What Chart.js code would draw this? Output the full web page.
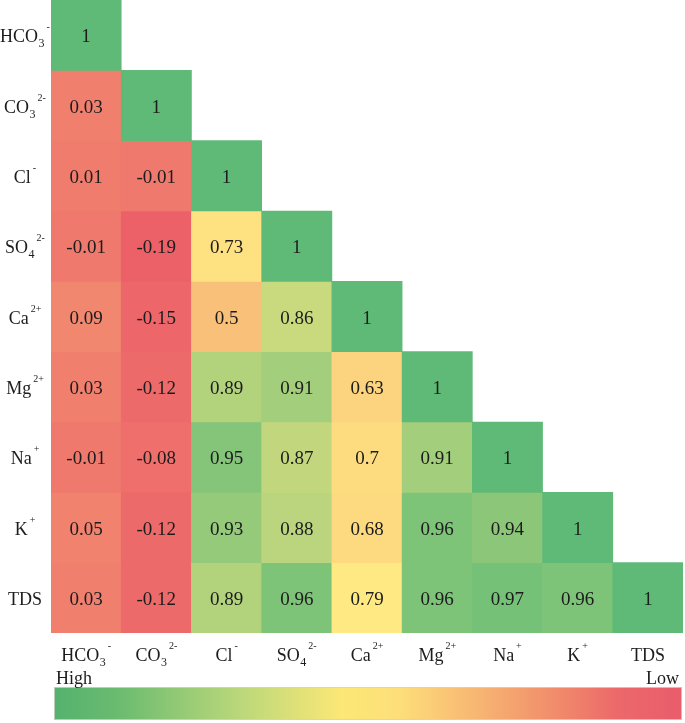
<!DOCTYPE html>
<html>
<head>
<meta charset="utf-8">
<script src="https://cdn.jsdelivr.net/npm/chart.js@4/dist/chart.umd.min.js"></script>
<style>
  html, body { margin: 0; padding: 0; background: #ffffff; }
  #wrap { width: 685px; height: 723px; }
</style>
</head>
<body>
<div id="wrap"><canvas id="c" width="685" height="723"></canvas></div>
<script>
// ---- data ----
const categories = ['HCO3-', 'CO3 2-', 'Cl-', 'SO4 2-', 'Ca2+', 'Mg2+', 'Na+', 'K+', 'TDS'];
const labelBase = ['HCO', 'CO', 'Cl', 'SO', 'Ca', 'Mg', 'Na', 'K', 'TDS'];
const labelSub  = ['3', '3', '', '4', '', '', '', '', ''];
const labelSup  = ['-', '2-', '-', '2-', '2+', '2+', '+', '+', ''];

const rowHCO3 = [1];
const rowCO3  = [0.03, 1];
const rowCl   = [0.01, -0.01, 1];
const rowSO4  = [-0.01, -0.19, 0.73, 1];
const rowCa   = [0.09, -0.15, 0.5, 0.86, 1];
const rowMg   = [0.03, -0.12, 0.89, 0.91, 0.63, 1];
const rowNa   = [-0.01, -0.08, 0.95, 0.87, 0.7, 0.91, 1];
const rowK    = [0.05, -0.12, 0.93, 0.88, 0.68, 0.96, 0.94, 1];
const rowTDS  = [0.03, -0.12, 0.89, 0.96, 0.79, 0.96, 0.97, 0.96, 1];
const rows = [rowHCO3, rowCO3, rowCl, rowSO4, rowCa, rowMg, rowNa, rowK, rowTDS];

const legendLow = 'Low';
const legendHigh = 'High';

// ---- colour scale (red -> yellow -> green) ----
const cMin = -0.19, cMid = 0.79, cMax = 1;
const RED = [236, 96, 104], YEL = [255, 233, 130], GRN = [94, 186, 118];
function mix(a, b, t) { return a.map((v, i) => Math.round(v + (b[i] - v) * t)); }
function colorFor(v) {
  let c;
  if (v <= cMid) c = mix(RED, YEL, Math.max(0, (v - cMin) / (cMid - cMin)));
  else c = mix(YEL, GRN, Math.min(1, (v - cMid) / (cMax - cMid)));
  return 'rgb(' + c.join(',') + ')';
}

const FONT_FAMILY = "'Liberation Serif', 'Times New Roman', serif";
const TXT = '#1c1c1c';

const datasets = rows.map((row, r) => ({
  label: categories[r],
  data: categories.map((_, c) => (c < row.length ? [r, r + 1] : null)),
  backgroundColor: categories.map((_, c) => (c < row.length ? colorFor(row[c]) : 'rgba(0,0,0,0)')),
  borderWidth: 0,
  grouped: false,
  barPercentage: 1,
  categoryPercentage: 1
}));

function textW(ctx, t, font) { ctx.font = font; return ctx.measureText(t).width; }
function drawText(ctx, t, x, y, font) {
  ctx.font = font;
  ctx.textAlign = 'left';
  ctx.textBaseline = 'alphabetic';
  ctx.fillText(t, x, y);
}
const valueFont = '19px ' + FONT_FAMILY;
const mainFont = '18px ' + FONT_FAMILY;
const subFont = '12px ' + FONT_FAMILY;
const supFont = '10px ' + FONT_FAMILY;

function richParts(i) {
  const p = [{ t: labelBase[i], f: mainFont, dy: 0, gap: 0 }];
  if (labelSub[i]) p.push({ t: labelSub[i], f: subFont, dy: 5, gap: 0.5 });
  if (labelSup[i]) p.push({ t: labelSup[i], f: supFont, dy: -12, gap: 2 });
  return p;
}
function drawRich(ctx, i, cx, baseY, minLeft) {
  const parts = richParts(i);
  let total = 0;
  parts.forEach(p => { p.w = textW(ctx, p.t, p.f); total += p.w + p.gap; });
  let x = Math.max(minLeft, cx - total / 2);
  parts.forEach(p => { x += p.gap; drawText(ctx, p.t, x, baseY + p.dy, p.f); x += p.w; });
}

const decorPlugin = {
  id: 'decor',
  afterDatasetsDraw(chart) {
    const ctx = chart.ctx;
    const xs = chart.scales.x, ys = chart.scales.y;
    ctx.save();
    ctx.fillStyle = TXT;
    // cell values
    rows.forEach((row, r) => {
      const meta = chart.getDatasetMeta(r);
      row.forEach((v, c) => {
        const el = meta.data[c];
        const cy = (el.y + el.base) / 2;
        const s = String(v);
        const w = textW(ctx, s, valueFont);
        drawText(ctx, s, el.x - w / 2, cy + 7, valueFont);
      });
    });
    // y labels
    categories.forEach((_, i) => {
      const cy = ys.getPixelForValue(i + 0.5);
      drawRich(ctx, i, 25, cy + 7, 0);
    });
    // x labels
    categories.forEach((_, i) => {
      const cx = xs.getPixelForValue(i);
      drawRich(ctx, i, cx, 661, -999);
    });
    // colour bar
    const bx0 = 54, bx1 = 682, by0 = 687, by1 = 720;
    const g = ctx.createLinearGradient(bx0, 0, bx1, 0);
    g.addColorStop(0.00, 'rgb(84,178,110)');
    g.addColorStop(0.10, 'rgb(106,187,112)');
    g.addColorStop(0.30, 'rgb(188,216,122)');
    g.addColorStop(0.46, 'rgb(252,232,118)');
    g.addColorStop(0.55, 'rgb(253,222,122)');
    g.addColorStop(0.68, 'rgb(247,180,114)');
    g.addColorStop(0.82, 'rgb(240,132,106)');
    g.addColorStop(0.90, 'rgb(236,104,106)');
    g.addColorStop(1.00, 'rgb(233,92,108)');
    ctx.fillStyle = g;
    ctx.fillRect(bx0, by0, bx1 - bx0, by1 - by0);
    ctx.strokeStyle = 'rgba(210,210,210,0.8)';
    ctx.lineWidth = 1;
    ctx.strokeRect(bx0 + 0.5, by0 + 0.5, bx1 - bx0 - 1, by1 - by0 - 1);
    // High / Low
    ctx.fillStyle = TXT;
    drawText(ctx, legendHigh, 56, 684, mainFont);
    const lw = textW(ctx, legendLow, mainFont);
    drawText(ctx, legendLow, 679 - lw, 684, mainFont);
    ctx.restore();
  }
};

new Chart(document.getElementById('c'), {
  type: 'bar',
  data: { labels: categories, datasets },
  options: {
    responsive: false,
    animation: false,
    devicePixelRatio: 1,
    events: [],
    layout: { padding: { left: 51, right: 2, top: 0, bottom: 90 } },
    plugins: { legend: { display: false }, tooltip: { enabled: false } },
    scales: {
      x: { type: 'category', display: false, offset: true },
      y: { type: 'linear', display: false, min: 0, max: 9, reverse: true }
    }
  },
  plugins: [decorPlugin]
});
</script>
</body>
</html>
